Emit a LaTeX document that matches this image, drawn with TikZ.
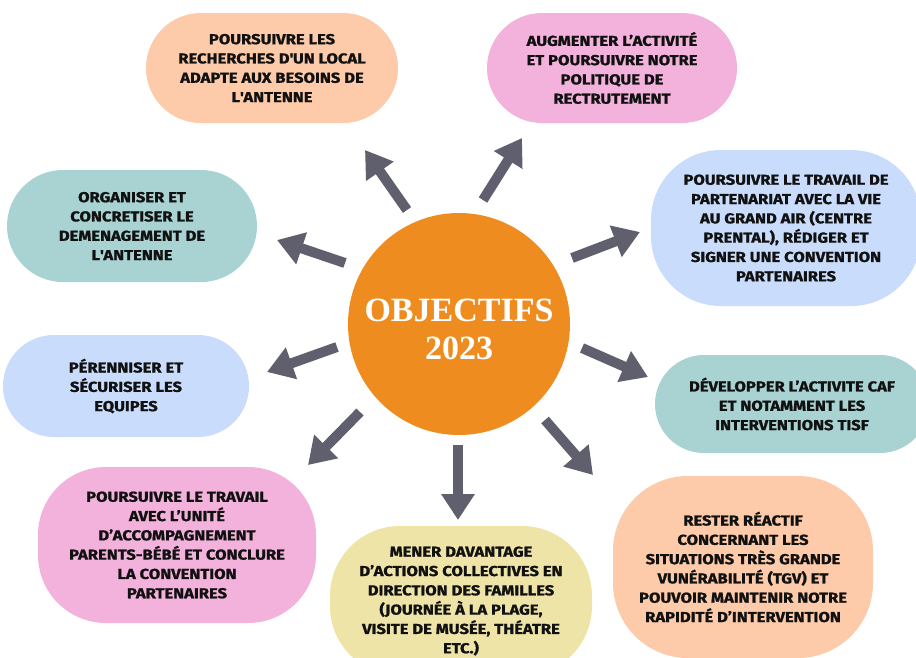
\documentclass[tikz,border=0pt]{standalone}
\usepackage{fontspec}
\usetikzlibrary{arrows.meta}
\newfontfamily\boxff{Fira Sans}[FakeStretch=1.15, BoldFeatures={FakeBold=1.2}]
\newfontfamily\titleff{Liberation Serif}
\definecolor{peach}{HTML}{FDCBA9}
\definecolor{pinkb}{HTML}{F3B2DB}
\definecolor{blueb}{HTML}{C9DCFB}
\definecolor{tealb}{HTML}{A9D3D2}
\definecolor{yellowb}{HTML}{EFE4A8}
\definecolor{orangec}{HTML}{EF8C1F}
\definecolor{arrgray}{HTML}{605F6D}
\definecolor{txt}{HTML}{111111}
\tikzset{
  goal/.style n args={4}{rectangle, fill=#1, minimum width=#2, minimum height=#3,
     rounded corners=#4, align=center, inner sep=0pt, text=txt,
     font={\boxff\bfseries\fontsize{14.4}{19.3}\selectfont}},
  arr/.style={draw=arrgray, line width=10pt, line cap=butt,
     -{Triangle[width=32pt,length=26pt]}},
}
\begin{document}
\begin{tikzpicture}[x=1pt,y=-1pt]
\useasboundingbox (0,0) rectangle (916,657);
\clip (0,0) rectangle (916,657);
\fill[white] (0,0) rectangle (916,657);

% centre
\node[circle, fill=orangec, minimum size=222pt, inner sep=0pt] (c) at (459,324) {};
\node[text=white, align=center, inner sep=0pt,
  font={\titleff\bfseries\fontsize{34}{38}\selectfont}] (ct) at (459,329) {OBJECTIFS\\2023};

% goals
\node[goal={peach}{252pt}{110pt}{55pt}] (g1) at (272,68)
  {POURSUIVRE LES\\RECHERCHES D\textquotesingle UN LOCAL\\ADAPTE AUX BESOINS DE\\L\textquotesingle ANTENNE};
\node[goal={pinkb}{250pt}{110pt}{55pt}] (g2) at (612,68)
  {AUGMENTER L’ACTIVITÉ\\ET POURSUIVRE NOTRE\\POLITIQUE DE\\RECTRUTEMENT};
\node[goal={blueb}{270pt}{156pt}{70pt}] (g3) at (786,228)
  {POURSUIVRE LE TRAVAIL DE\\PARTENARIAT AVEC LA VIE\\AU GRAND AIR (CENTRE\\PRENTAL), RÉDIGER ET\\SIGNER UNE CONVENTION\\PARTENAIRES};
\node[goal={tealb}{274pt}{98pt}{49pt}] (g4) at (792,404)
  {DÉVELOPPER L’ACTIVITE CAF\\ET NOTAMMENT LES\\INTERVENTIONS TISF};
\node[goal={peach}{260pt}{182pt}{75pt}] (g5) at (743,567)
  {RESTER RÉACTIF\\CONCERNANT LES\\SITUATIONS TRÈS GRANDE\\VUNÉRABILITÉ (TGV) ET\\POUVOIR MAINTENIR NOTRE\\RAPIDITÉ D’INTERVENTION};
\node[goal={yellowb}{262pt}{150pt}{70pt}] (g6) at (461,601)
  {MENER DAVANTAGE\\D’ACTIONS COLLECTIVES EN\\DIRECTION DES FAMILLES\\(JOURNÉE À LA PLAGE,\\VISITE DE MUSÉE, THÉATRE\\ETC.)};
\node[goal={pinkb}{278pt}{156pt}{68pt}] (g7) at (177,545)
  {POURSUIVRE LE TRAVAIL\\AVEC L’UNITÉ\\D’ACCOMPAGNEMENT\\PARENTS-BÉBÉ ET CONCLURE\\LA CONVENTION\\PARTENAIRES};
\node[goal={blueb}{246pt}{102pt}{51pt}] (g8) at (126,386)
  {PÉRENNISER ET\\SÉCURISER LES\\EQUIPES};
\node[goal={tealb}{250pt}{112pt}{56pt}] (g9) at (132,226)
  {ORGANISER ET\\CONCRETISER LE\\DEMENAGEMENT DE\\L\textquotesingle ANTENNE};

% arrow ends
\coordinate (t1) at (407,210); \coordinate (h1) at (365,150);
\coordinate (t2) at (483,200); \coordinate (h2) at (522,138);
\coordinate (t3) at (572,258); \coordinate (h3) at (640,232);
\coordinate (t4) at (582,348); \coordinate (h4) at (648,377);
\coordinate (t5) at (545,420); \coordinate (h5) at (593,475);
\coordinate (t6) at (458,445); \coordinate (h6) at (458,520);
\coordinate (t7) at (360,412); \coordinate (h7) at (308,465);
\coordinate (t8) at (337,347); \coordinate (h8) at (267,372);
\coordinate (t9) at (345,263); \coordinate (h9) at (277,240);

\foreach \i in {1,...,9}{\draw[arr] (t\i) -- (h\i);}
\end{tikzpicture}
\end{document}
